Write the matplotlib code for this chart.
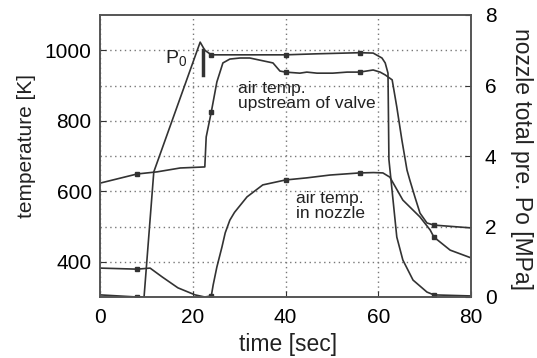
import numpy as np
import matplotlib.pyplot as plt

plt.rcParams['font.family'] = ['Liberation Sans', 'DejaVu Sans']
plt.rcParams['mathtext.default'] = 'regular'

# air temp. upstream of valve [K]
t_up = [0, 8, 12.3, 17.3, 22.6, 22.9, 24, 25.2, 26.5, 28, 30.2, 32.3, 37.3, 38.8, 40, 43.1,
        44.6, 46.8, 50.2, 53.3, 56, 58.9, 60.4, 61.5, 63.0, 64.0, 65.1, 66.2, 66.8, 67.9,
        69.0, 70.5, 72, 80]
T_up = [623, 649, 655, 666, 669, 754, 825, 910, 964, 975, 978, 978, 964, 941, 938, 935,
        938, 935, 935, 938, 938, 944, 938, 930, 916, 839, 745, 660, 632, 584,
        538, 510, 504, 496]

# air temp. in nozzle [K]
t_nz = [0, 8, 10.8, 13.4, 16.8, 20.5, 22.6, 24, 24.4, 25.2, 26.3, 27.0, 28.0, 29.0, 31.7,
        35.1, 40, 44.6, 49.6, 56, 59, 61.0, 62.5, 65.3, 69.0, 71.2, 72, 75.5, 80]
T_nz = [382, 379, 382, 357, 326, 306, 300, 303, 334, 385, 442, 482, 518, 540, 584,
        618, 632, 638, 646, 652, 653, 652, 640, 575, 527, 490, 470, 433, 411]

# nozzle total pressure Po [MPa]
t_po = [0, 8, 9.5, 11.6, 21.6, 22.6, 24, 32.3, 40, 47, 56, 58.9, 60.8, 61.5, 62.1, 62.3,
        64.0, 65.3, 67.5, 70.5, 72, 80]
P_po = [0.06, 0.0, 0.0, 3.55, 7.23, 7.0, 6.87, 6.87, 6.87, 6.9, 6.93, 6.92, 6.78, 6.64, 6.35,
        3.9, 1.70, 1.05, 0.48, 0.14, 0.06, 0.03]

mark_t = [8, 24, 40, 56, 72]

fig = plt.figure(figsize=(5.37, 3.58), dpi=100)
ax = fig.add_axes([100/537, 61/358, 371/537, 282/358])
ax2 = ax.twinx()

col = '#333333'
lw = 1.2


def marks(t):
    return [i for i, v in enumerate(t) if v in mark_t]


ax.plot(t_up, T_up, color=col, lw=lw, marker='s', ms=3.5, markevery=marks(t_up))
ax.plot(t_nz, T_nz, color=col, lw=lw, marker='s', ms=3.5, markevery=marks(t_nz))
ax2.plot(t_po, P_po, color=col, lw=lw, marker='s', ms=3.5, markevery=marks(t_po))

# P0 marker bar
ax.plot([22.2, 22.2], [930, 1001], color=col, lw=2.5)

ax.set_xlim(0, 80)
ax.set_ylim(300, 1100)
ax2.set_ylim(0, 8)
ax.set_xticks([0, 20, 40, 60, 80])
ax.set_yticks([400, 600, 800, 1000])
ax.set_yticks([500, 700, 900], minor=True)
ax2.set_yticks([0, 2, 4, 6, 8])

ax.grid(True, which='both', linestyle=(0, (1, 2.5)), color='#777777', lw=1)
ax.tick_params(which='minor', length=0)
ax.tick_params(which='major', direction='in', length=4, labelsize=15, color=col)
ax.tick_params(axis='x', pad=8)
ax.tick_params(axis='y', pad=6)
ax2.tick_params(direction='in', length=4, labelsize=15, pad=10, color=col)

for a in (ax, ax2):
    for s in a.spines.values():
        s.set_color('#555555')
        s.set_linewidth(1.2)

ax.text(14.0, 963, 'P$_0$', fontsize=14, va='baseline', color='#222222')
ax.text(29.8, 912, 'air temp.\nupstream of valve', fontsize=12.5, va='top',
        linespacing=1.0, color='#222222')
ax.text(42.3, 600, 'air temp.\nin nozzle', fontsize=12.5, va='top',
        linespacing=1.0, color='#222222')

fig.text(27/537, 1 - 146/358, 'temperature [K]', rotation=90, ha='center', va='center',
         fontsize=15, color='#222222')
fig.text(522/537, 1 - 159/358, 'nozzle total pre. Po [MPa]', rotation=270, ha='center',
         va='center', fontsize=16.5, color='#222222')
fig.text(288/537, 1 - 345/358, 'time [sec]', ha='center', va='center', fontsize=16.5,
         color='#222222')

fig.savefig('out.png', dpi=100)
